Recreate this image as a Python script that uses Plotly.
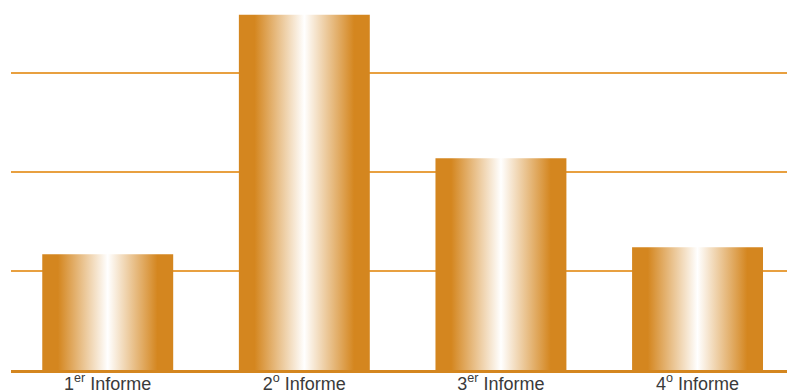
import plotly.graph_objects as go

categories = ["1<sup>er</sup> Informe", "2<sup>o</sup> Informe", "3<sup>er</sup> Informe", "4<sup>o</sup> Informe"]
values = [1.17, 3.59, 2.14, 1.24]

ORANGE = "#D4861F"
GRID = "#E8A040"
BAR_W = 0.666

fig = go.Figure()
for i, v in enumerate(values):
    x0, x1 = i - BAR_W / 2, i + BAR_W / 2
    fig.add_trace(go.Scatter(
        x=[x0, x0, x1, x1, x0], y=[0, v, v, 0, 0],
        mode="lines", line=dict(width=0), fill="toself",
        fillgradient=dict(type="horizontal", colorscale=[
            [0, ORANGE], [0.12, ORANGE], [0.5, "#FFFFFF"], [0.88, ORANGE], [1, ORANGE]]),
        hoverinfo="skip", showlegend=False))

fig.update_layout(
    width=787, height=392,
    margin=dict(l=11, r=0, t=0, b=22),
    paper_bgcolor="white", plot_bgcolor="white",
    showlegend=False,
    xaxis=dict(range=[-0.492, 3.455], tickvals=list(range(len(categories))), ticktext=categories,
               automargin=False, ticklabelstandoff=-5,
               showgrid=False, zeroline=False, showline=True, linecolor=ORANGE, linewidth=3,
               ticks="", tickfont=dict(family="Liberation Sans, Arial", size=18, color="#3a3a3a")),
    yaxis=dict(range=[0, 3.74], dtick=1, showgrid=True, gridcolor=GRID, gridwidth=2,
               automargin=False,
               zeroline=False, showticklabels=False, ticks=""),
)
fig.write_html("out.html", config={"displayModeBar": False},
               post_script="document.body.style.margin='0';document.body.style.overflow='hidden';")
